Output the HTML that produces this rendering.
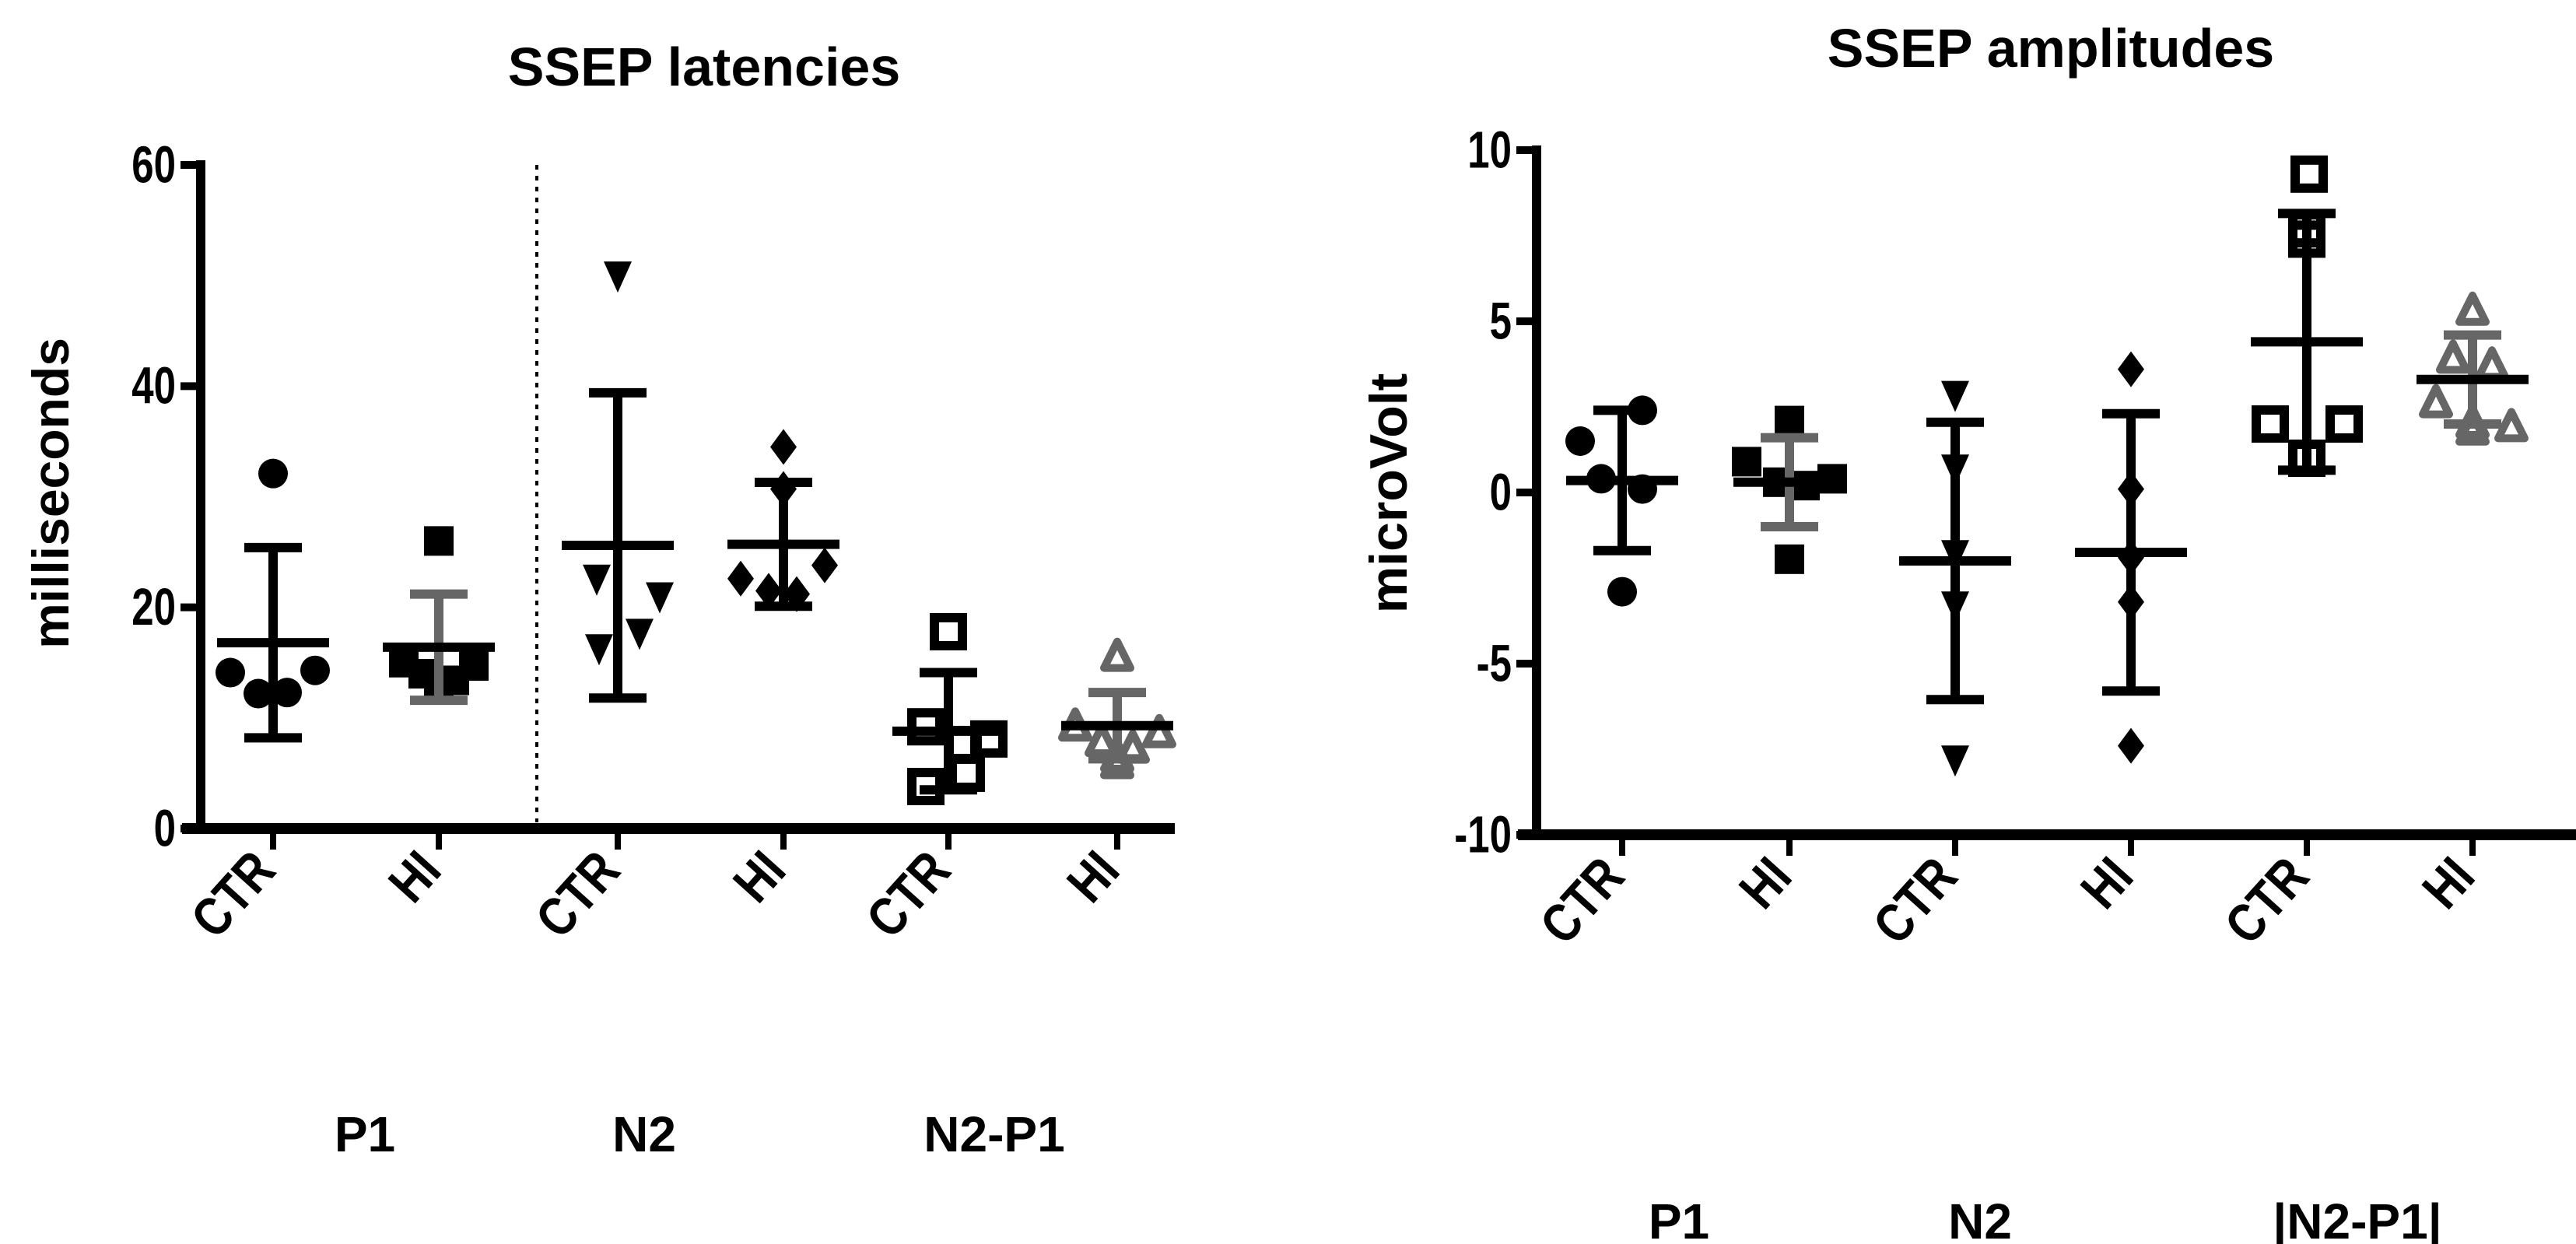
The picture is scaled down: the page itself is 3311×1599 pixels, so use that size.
<!DOCTYPE html>
<html><head><meta charset="utf-8"><style>
html,body{margin:0;padding:0;background:#fff}
svg{display:block}
text{font-family:"Liberation Sans",Arial,sans-serif;font-weight:bold;fill:#000}
</style></head><body>
<svg id="chart" width="3311" height="1599" viewBox="0 0 3311 1599" xmlns="http://www.w3.org/2000/svg">
<g id="left"></g>
<g id="right"></g>
</svg>
<script>
// ---- Latency data (ms) ----
const latCategories = ["CTR","HI","CTR","HI","CTR","HI"];
const latGroups = ["P1","N2","N2-P1"];
const latTicks = [0,20,40,60];
const latCTRP1 = [32.1,14.1,14.3,12.2,12.3];
const latHIP1 = [26,15,14.7,14,13.4,12.8];
const latCTRN2 = [50,22.6,21,17.7,16.3];
const latHIN2 = [34.5,30.7,23.8,22.6,21.5,21.2];
const latCTRNP = [17.8,9.2,8.1,7.6,5,3.8];
const latHINP = [15.5,9.2,8.6,7.8,7.2,6.4,5.8];
const latMeans = [16.8,16.4,25.6,25.7,8.8,9.3];
const latSDs = [8.6,4.8,13.8,5.6,5.3,3.0];
// ---- Amplitude data (microVolt) ----
const ampCategories = ["CTR","HI","CTR","HI","CTR","HI"];
const ampGroups = ["P1","N2","|N2-P1|"];
const ampTicks = [-10,-5,0,5,10];
const ampCTRP1 = [2.4,1.5,0.4,0.1,-2.9];
const ampHIP1 = [2.1,0.9,0.4,0.3,0.2,-1.95];
const ampCTRN2 = [2.85,0.7,-1.8,-3.3,-7.8];
const ampHIN2 = [3.6,0.1,-1.9,-3.2,-7.4];
const ampCTRNP = [9.3,7.4,7.7,2.0,2.0,1.0];
const ampHINP = [5.3,3.9,3.7,2.6,2.0,1.9,1.8];
const ampMeans = [0.35,0.3,-2.0,-1.75,4.4,3.3];
const ampSDs = [2.05,1.3,4.05,4.05,3.75,1.3];

const NS="http://www.w3.org/2000/svg";
function mk(parent,tag,attrs,txt){const e=document.createElementNS(NS,tag);for(const k in attrs)e.setAttribute(k,attrs[k]);if(txt!==undefined)e.textContent=txt;parent.appendChild(e);return e;}
const GRAY="#666";

function marker(g,type,x,y){
  let e;
  if(type==="circle"){e=mk(g,"circle",{cx:x,cy:y,r:19,fill:"#000"});}
  else if(type==="square"){e=mk(g,"rect",{x:x-19,y:y-19,width:38,height:38,fill:"#000"});}
  else if(type==="tri"){e=mk(g,"polygon",{points:`${x-18},${y-18} ${x+18},${y-18} ${x},${y+22}`,fill:"#000"});}
  else if(type==="diamond"){e=mk(g,"polygon",{points:`${x},${y-23} ${x+17},${y} ${x},${y+23} ${x-17},${y}`,fill:"#000"});}
  else if(type==="osquare"){e=mk(g,"rect",{x:x-18,y:y-18,width:36,height:36,fill:"none",stroke:"#000","stroke-width":12});}
  else if(type==="otri"){e=mk(g,"polygon",{points:`${x},${y-20} ${x+17},${y+14} ${x-17},${y+14}`,fill:"none",stroke:GRAY,"stroke-width":10,"stroke-linejoin":"round"});}
  
  
}

function drawChart(cfg){
  const g=document.getElementById(cfg.id);
  const y=v=>cfg.y0-(v-cfg.min)*(cfg.y0-cfg.y1)/(cfg.max-cfg.min);
  const t=mk(g,"text",{x:cfg.titleX,y:cfg.titleY,"font-size":70,"text-anchor":"middle"},cfg.title);
  
  const yt=mk(g,"text",{x:0,y:0,"font-size":cfg.ytSize,"text-anchor":"middle",transform:`translate(${cfg.ytX},${cfg.ytY}) rotate(-90)`},cfg.ytitle);
  
  const ya=mk(g,"line",{x1:cfg.ax,y1:cfg.y1-6,x2:cfg.ax,y2:cfg.y0+6,stroke:"#000","stroke-width":12});
  
  const xa=mk(g,"line",{x1:cfg.ax-24,y1:cfg.y0,x2:cfg.axEnd,y2:cfg.y0,stroke:"#000","stroke-width":14});
  
  cfg.ticks.forEach(v=>{
    const l=mk(g,"line",{x1:cfg.ax-26,y1:y(v),x2:cfg.ax,y2:y(v),stroke:"#000","stroke-width":10});
    
    const tx=cfg.ax-32, ty=y(v);
    const tl=mk(g,"text",{x:0,y:20,"font-size":60,"text-anchor":"end",transform:`translate(${tx},${ty}) scale(0.85,1.12)`},String(v));
    
  });
  cfg.cats.forEach((c,i)=>{
    const x=cfg.xs[i];
    const l=mk(g,"line",{x1:x,y1:cfg.y0,x2:x,y2:cfg.y0+27,stroke:"#000","stroke-width":8});
    
    const tl=mk(g,"text",{x:0,y:0,"font-size":66,"text-anchor":"end",transform:`translate(${x+6},${cfg.y0+56}) rotate(-48) scale(0.88,1.05)`},c);
    
  });
  cfg.groups.forEach((gn,i)=>{
    const tl=mk(g,"text",{x:cfg.groupX[i],y:cfg.groupY,"font-size":64,"text-anchor":"middle"},gn);
    
  });
  if(cfg.divider){
    const d=mk(g,"line",{x1:cfg.divider,y1:cfg.y1,x2:cfg.divider,y2:cfg.y0-8,stroke:"#000","stroke-width":4,"stroke-dasharray":"6 8"});
    
  }
  cfg.series.forEach((s,i)=>{
    const sg=mk(g,"g",{});
    
    
    const x=cfg.xs[i];
    s.vals.forEach((v,j)=>marker(sg,s.type,x+(s.jit[j]||0),y(v)));
    const m=cfg.means[i],sd=cfg.sds[i];
    const eb=mk(sg,"path",{d:`M${x},${y(m+sd)}V${y(m-sd)}M${x-37},${y(m+sd)}H${x+37}M${x-37},${y(m-sd)}H${x+37}`,stroke:s.sdCol,"stroke-width":12,fill:"none"});
    
    const ml=mk(sg,"line",{x1:x-72,y1:y(m),x2:x+72,y2:y(m),stroke:"#000","stroke-width":12});
    
  });
}

drawChart({id:"left",title:"SSEP latencies",titleX:905,titleY:110,ytitle:"milliseconds",ytX:88,ytY:634,ytSize:66,
  ax:258,axEnd:1510,y0:1065,y1:212,min:0,max:60,ticks:latTicks,cats:latCategories,groups:latGroups,
  xs:[351,564,794,1007,1219,1436],groupX:[469,828,1278],groupY:1480,divider:690,
  means:latMeans,sds:latSDs,
  series:[
    {vals:latCTRP1,type:"circle",jit:[0,-55,54,-19,18],sdCol:"#000"},
    {vals:latHIP1,type:"square",jit:[0,-45,45,-20,20,0],sdCol:GRAY},
    {vals:latCTRN2,type:"tri",jit:[0,-27,54,28,-24],sdCol:"#000"},
    {vals:latHIN2,type:"diamond",jit:[0,0,53,-55,-19,17],sdCol:"#000"},
    {vals:latCTRNP,type:"osquare",jit:[0,-29,52,19,23,-29],sdCol:"#000"},
    {vals:latHINP,type:"otri",jit:[0,-54,54,-20,20,0,0],sdCol:GRAY}
  ]});
drawChart({id:"right",title:"SSEP amplitudes",titleX:2636,titleY:86,ytitle:"microVolt",ytX:1808,ytY:634,ytSize:68,
  ax:1975,axEnd:3311,y0:1073,y1:193,min:-10,max:10,ticks:ampTicks,cats:ampCategories,groups:ampGroups,
  xs:[2085,2300,2513,2739,2965,3178],groupX:[2158,2545,3030],groupY:1592,divider:null,
  means:ampMeans,sds:ampSDs,
  series:[
    {vals:ampCTRP1,type:"circle",jit:[26,-54,-27,26,0],sdCol:"#000"},
    {vals:ampHIP1,type:"square",jit:[0,-55,55,-15,20,0],sdCol:GRAY},
    {vals:ampCTRN2,type:"tri",jit:[0,0,0,0,0],sdCol:"#000"},
    {vals:ampHIN2,type:"diamond",jit:[0,0,0,0,0],sdCol:"#000"},
    {vals:ampCTRNP,type:"osquare",jit:[3,0,0,-47,48,0],sdCol:"#000"},
    {vals:ampHINP,type:"otri",jit:[0,-25,25,-47,0,50,0],sdCol:GRAY}
  ]});
</script>
</body></html>
